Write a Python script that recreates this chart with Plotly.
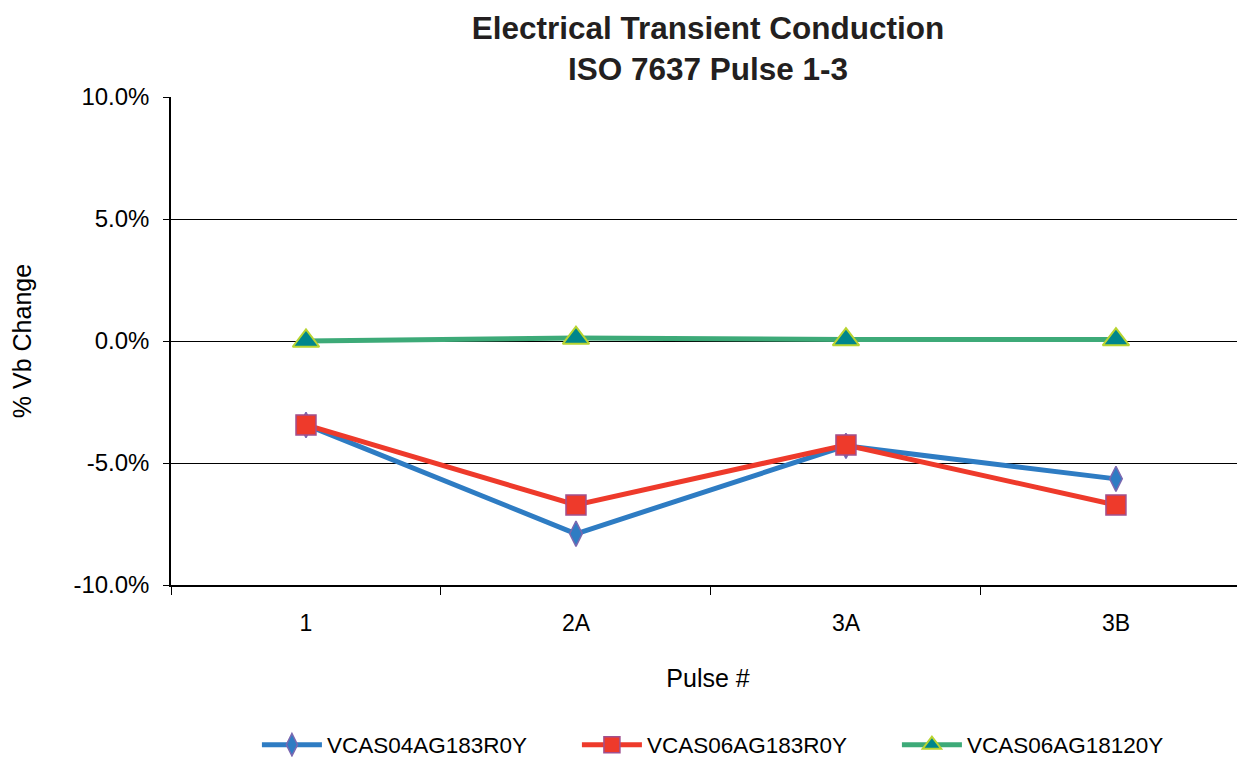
import plotly.graph_objects as go

categories = ["1", "2A", "3A", "3B"]
s1_name = "VCAS04AG183R0Y"
s1_vals = [-3.44, -7.9, -4.3, -5.65]
s2_name = "VCAS06AG183R0Y"
s2_vals = [-3.44, -6.72, -4.26, -6.72]
s3_name = "VCAS06AG18120Y"
s3_vals = [0.0, 0.12, 0.06, 0.06]
y_ticks = [-10, -5, 0, 5, 10]
y_ticklabels = ["-10.0%", "-5.0%", "0.0%", "5.0%", "10.0%"]

FONT = "Liberation Sans, Arial, Helvetica, sans-serif"

W, H = 1237, 749
fig = go.Figure()
fig.add_trace(go.Scatter(
    x=categories, y=s1_vals, name=s1_name, mode="lines+markers",
    line=dict(color="#2e7cc3", width=5),
    marker=dict(symbol="diamond-tall", size=18, color="#2e7cc3",
                line=dict(color="#7a68b0", width=1.5)),
))
fig.add_trace(go.Scatter(
    x=categories, y=s2_vals, name=s2_name, mode="lines+markers",
    line=dict(color="#ee3a2b", width=5),
    marker=dict(symbol="square", size=20, color="#ee3a2b",
                line=dict(color="#a0508f", width=1.5)),
))
fig.add_trace(go.Scatter(
    x=categories, y=s3_vals, name=s3_name, mode="lines+markers",
    line=dict(color="#3daa78", width=5),
    marker=dict(symbol="triangle-up", size=23, color="#00868c",
                line=dict(color="#b8d431", width=2)),
))

fig.update_layout(
    width=W, height=H,
    margin=dict(l=163, r=0, t=89, b=172, pad=0),
    paper_bgcolor="white", plot_bgcolor="white",
    font=dict(family=FONT, size=22, color="black"),
    title=dict(
        text="<b>Electrical Transient Conduction<br>ISO 7637 Pulse 1-3</b>",
        x=0.5, xref="paper", xanchor="center",
        y=1 - 31 / H, yref="container", yanchor="middle",
        font=dict(family=FONT, size=31.5, color="#231f20"),
    ),
    showlegend=True,
    legend=dict(
        orientation="h", x=0.08, xanchor="left",
        y=1 - 737 / H, yref="container", yanchor="middle",
        font=dict(family=FONT, size=22.5, color="black"),
        itemwidth=60, entrywidth=245, entrywidthmode="pixels",
    ),
    xaxis=dict(
        type="category", range=[-0.5, 3.478], automargin=False,
        showgrid=False, zeroline=False,
        showline=True, linecolor="black", linewidth=1.5,
        ticks="outside", tickson="boundaries", ticklen=8, tickcolor="black",
        tickfont=dict(size=23), ticklabelstandoff=17,
        title=dict(text="Pulse #", font=dict(size=25), standoff=34),
    ),
    yaxis=dict(
        range=[-10, 10], tickvals=y_ticks, ticktext=y_ticklabels, automargin=False,
        showgrid=True, gridcolor="black", gridwidth=1,
        zeroline=False,
        showline=True, linecolor="black", linewidth=1.5,
        ticks="outside", ticklen=6, tickcolor="black",
        tickfont=dict(size=24), ticklabelstandoff=9,
        title=dict(text="% Vb Change", font=dict(size=25), standoff=50),
    ),
)

fig.write_html("out.html")
